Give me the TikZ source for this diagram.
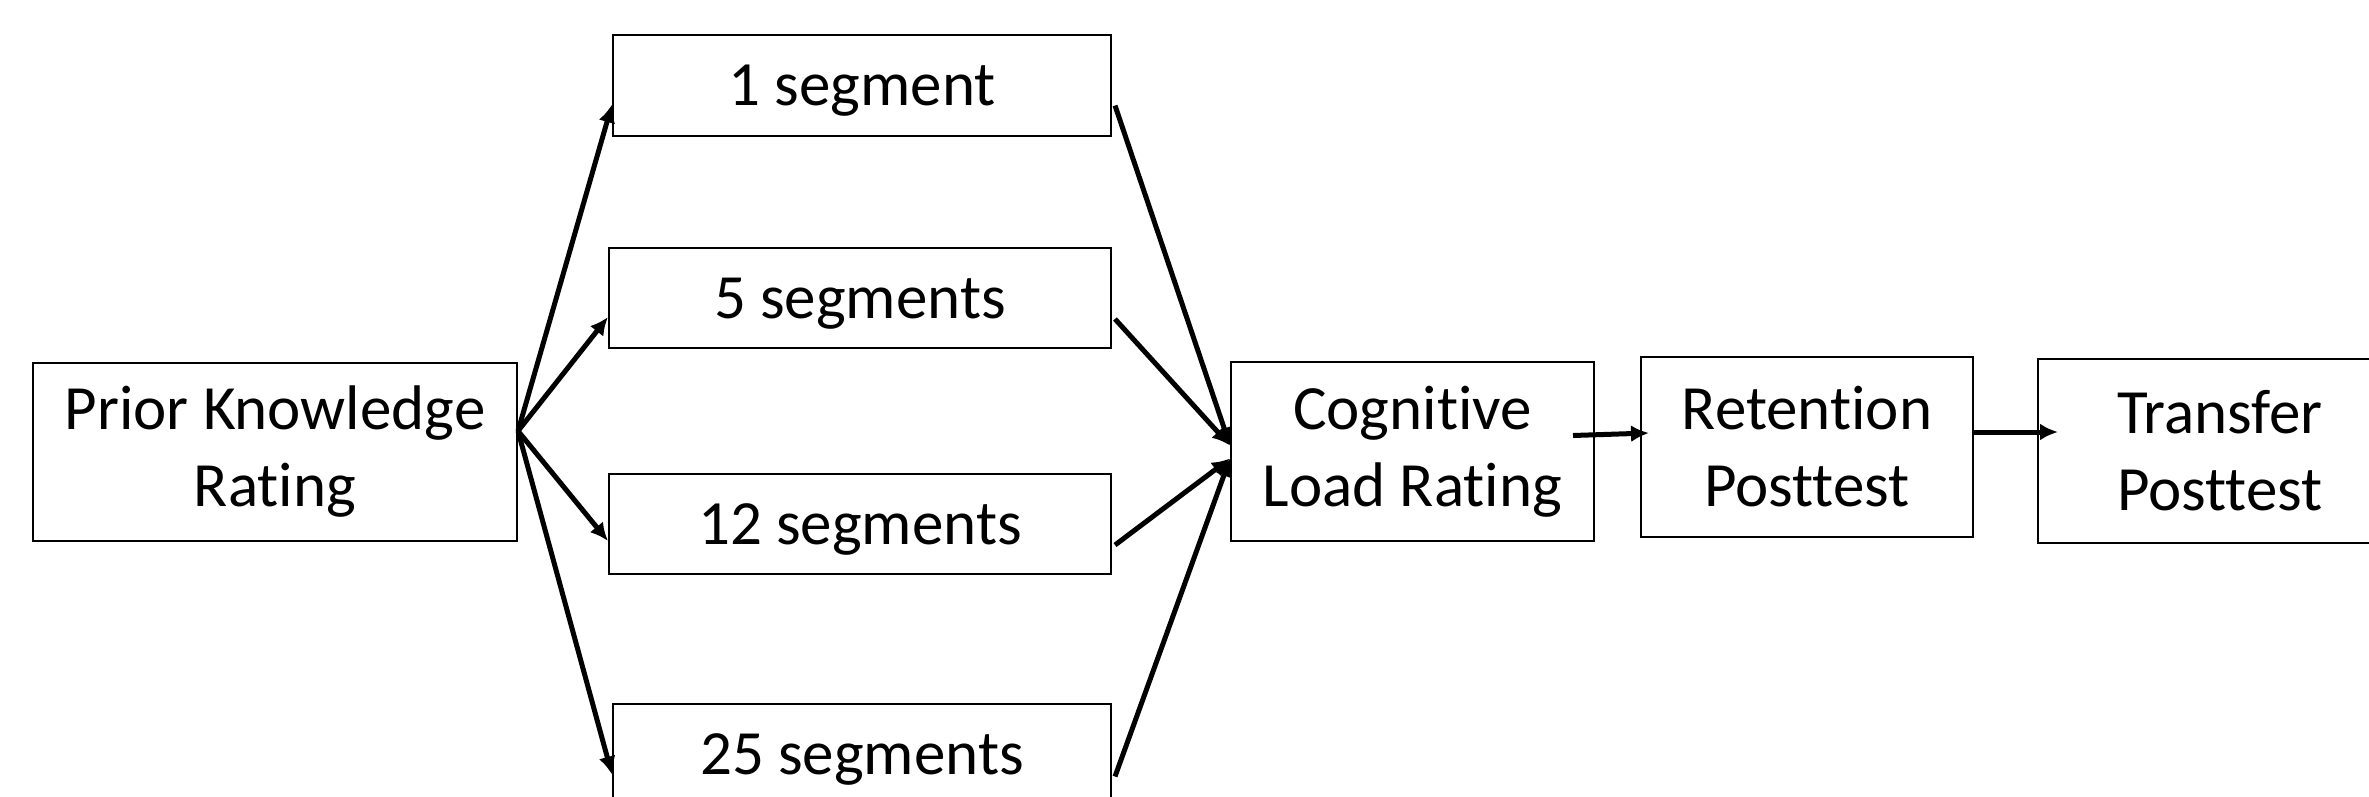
\documentclass[tikz,border=0pt]{standalone}
\usepackage{fontspec}
\setmainfont[Ligatures={NoCommon}]{Carlito}
\usetikzlibrary{arrows.meta}
\tikzset{
  box/.style={draw=black, line width=2pt, fill=white, inner sep=0pt, align=center,
    font=\fontsize{63}{77}\selectfont},
  lowertext/.style={execute at begin node={\rule{0pt}{51pt}}},
  conn/.style={line width=5pt, -{Latex[length=18pt,width=17pt]}},
}
\begin{document}
\begin{tikzpicture}[x=1pt,y=-1pt]
\clip (0,0) rectangle (2369,796);
\fill[white] (0,0) rectangle (2369,796);
\node[box, minimum width=484pt, minimum height=178pt] (pk) at (275,452) {Prior Knowledge\\Rating};
\node[box, lowertext, minimum width=498pt, minimum height=101pt] (s1) at (862,85.5) {1 segment};
\node[box, lowertext, minimum width=502pt, minimum height=100pt] (s5) at (860,298) {5 segments};
\node[box, lowertext, minimum width=502pt, minimum height=100pt] (s12) at (860,524) {12 segments};
\node[box, lowertext, minimum width=498pt, minimum height=101pt] (s25) at (862,754.5) {25 segments};
\node[box, minimum width=363pt, minimum height=179pt] (cog) at (1412.5,451.5) {Cognitive\\Load Rating};
\node[box, minimum width=332pt, minimum height=180pt] (ret) at (1807,447) {Retention\\Posttest};
\node[box, minimum width=364pt, minimum height=184pt] (tra) at (2220,451) {Transfer\\Posttest};
% from prior knowledge
\draw[conn] ([yshift=21pt]pk.east) -- ([yshift=-19pt]s1.west);
\draw[conn] ([yshift=21pt]pk.east) -- ([yshift=-19pt]s5.west);
\draw[conn] ([yshift=21pt]pk.east) -- ([yshift=-17pt]s12.west);
\draw[conn] ([yshift=21pt]pk.east) -- ([yshift=-20pt]s25.west);
% into cognitive load
\draw[conn] ([xshift=3pt,yshift=-20pt]s1.east) -- ([yshift=6pt]cog.west);
\draw[conn] ([xshift=3pt,yshift=-21pt]s5.east) -- ([yshift=6pt]cog.west);
\draw[conn] ([xshift=3pt,yshift=-21pt]s12.east) -- ([yshift=-7pt]cog.west);
\draw[conn] ([xshift=3pt,yshift=-22pt]s25.east) -- ([yshift=-7pt]cog.west);
% chain
\draw[conn] ([xshift=-22pt,yshift=16pt]cog.east) -- ([xshift=9pt,yshift=14pt]ret.west);
\draw[conn] ([yshift=15pt]ret.east) -- ([xshift=21pt,yshift=19pt]tra.west);
\end{tikzpicture}
\end{document}
